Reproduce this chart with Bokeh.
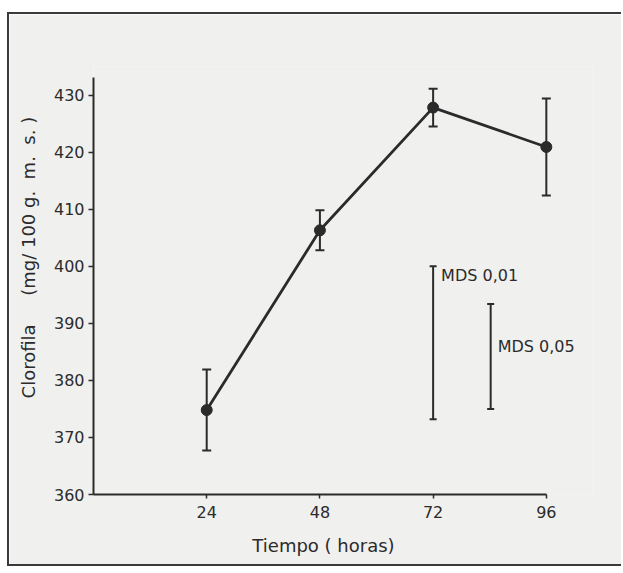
from bokeh.plotting import figure
from bokeh.models import ColumnDataSource, Whisker, TeeHead, FixedTicker, Range1d
from bokeh.core.properties import value
from bokeh.embed import file_html
from bokeh.resources import INLINE

# ---- data ----
hours = [24, 48, 72, 96]
clorofila = [374.8, 406.3, 427.8, 420.9]
error = [7.1, 3.5, 3.3, 8.5]

mds_names = ["MDS 0,01", "MDS 0,05"]
mds_x = [72.0, 84.2]
mds_lower = [373.2, 375.0]
mds_upper = [400.0, 393.4]

x_ticks = [24, 48, 72, 96]
y_ticks = [360, 370, 380, 390, 400, 410, 420, 430]

INK = "#2b2b2b"
BG = "#f0f0ee"
FONT = "DejaVu Sans"
NB = "\u00a0"

p = figure(width=614, height=554, output_backend="svg", toolbar_location=None,
           x_range=Range1d(0, 106), y_range=Range1d(360, 435),
           min_border_left=84, min_border_right=30, min_border_top=52, min_border_bottom=74,
           background_fill_color=BG, border_fill_color=BG)
p.styles = {"margin-top": "12px", "margin-left": "7px",
            "border-top": "2px solid #3a3a3a",
            "border-left": "2px solid #3a3a3a",
            "border-bottom": "2px solid #3a3a3a"}
p.outline_line_color = None
p.grid.visible = False

# axes
p.xaxis.ticker = FixedTicker(ticks=x_ticks)
p.yaxis.ticker = FixedTicker(ticks=y_ticks)
p.xaxis.bounds = (0, 96)
p.yaxis.bounds = (360, 433)
for ax in (p.xaxis, p.yaxis):
    ax.axis_line_color = INK
    ax.axis_line_width = 2
    ax.major_tick_line_color = INK
    ax.major_tick_line_width = 1.5
    ax.major_tick_in = 0
    ax.minor_tick_line_color = None
    ax.major_label_text_font = FONT
    ax.major_label_text_font_size = "16px"
    ax.major_label_text_color = INK
    ax.axis_label_text_font = FONT
    ax.axis_label_text_font_size = "18px"
    ax.axis_label_text_font_style = "normal"
    ax.axis_label_text_color = INK
p.xaxis.major_tick_out = 4
p.yaxis.major_tick_out = 5
p.xaxis.major_label_standoff = 7
p.yaxis.major_label_standoff = 4
p.xaxis.axis_label = "Tiempo ( horas)" + NB * 7
p.yaxis.axis_label = (NB * 8 + "Clorofila" + NB * 5 + "(mg/" + NB + "100" + NB + "g." + NB * 2
                      + "m." + NB * 2 + "s." + NB + ")")
p.xaxis.axis_label_standoff = 14
p.yaxis.axis_label_standoff = 12

# data series
src = ColumnDataSource(dict(
    x=hours, y=clorofila,
    upper=[c + e for c, e in zip(clorofila, error)],
    lower=[c - e for c, e in zip(clorofila, error)],
))
p.add_layout(Whisker(base="x", upper="upper", lower="lower", source=src,
                     line_color=INK, line_width=2,
                     upper_head=TeeHead(size=9, line_color=INK, line_width=2),
                     lower_head=TeeHead(size=9, line_color=INK, line_width=2)))
p.line("x", "y", source=src, line_color=INK, line_width=2.8)
p.scatter("x", "y", source=src, size=11, fill_color=INK, line_color=INK)

# MDS bars
msrc = ColumnDataSource(dict(x=mds_x, upper=mds_upper, lower=mds_lower))
p.add_layout(Whisker(base="x", upper="upper", lower="lower", source=msrc,
                     line_color=INK, line_width=2,
                     upper_head=TeeHead(size=7, line_color=INK, line_width=2),
                     lower_head=TeeHead(size=7, line_color=INK, line_width=2)))

s0 = ColumnDataSource(dict(x=mds_x[:1], y=mds_upper[:1], t=mds_names[:1]))
s1 = ColumnDataSource(dict(x=mds_x[1:], y=[(mds_lower[1] + mds_upper[1]) / 2], t=mds_names[1:]))
p.text("x", "y", text="t", source=s0, x_offset=8, text_baseline="top", text_align="left",
       text_font=value(FONT), text_font_size="16px", text_color=INK)
p.text("x", "y", text="t", source=s1, x_offset=7, text_baseline="bottom", text_align="left",
       text_font=value(FONT), text_font_size="16px", text_color=INK)

open("out.html", "w").write(file_html(p, INLINE))
